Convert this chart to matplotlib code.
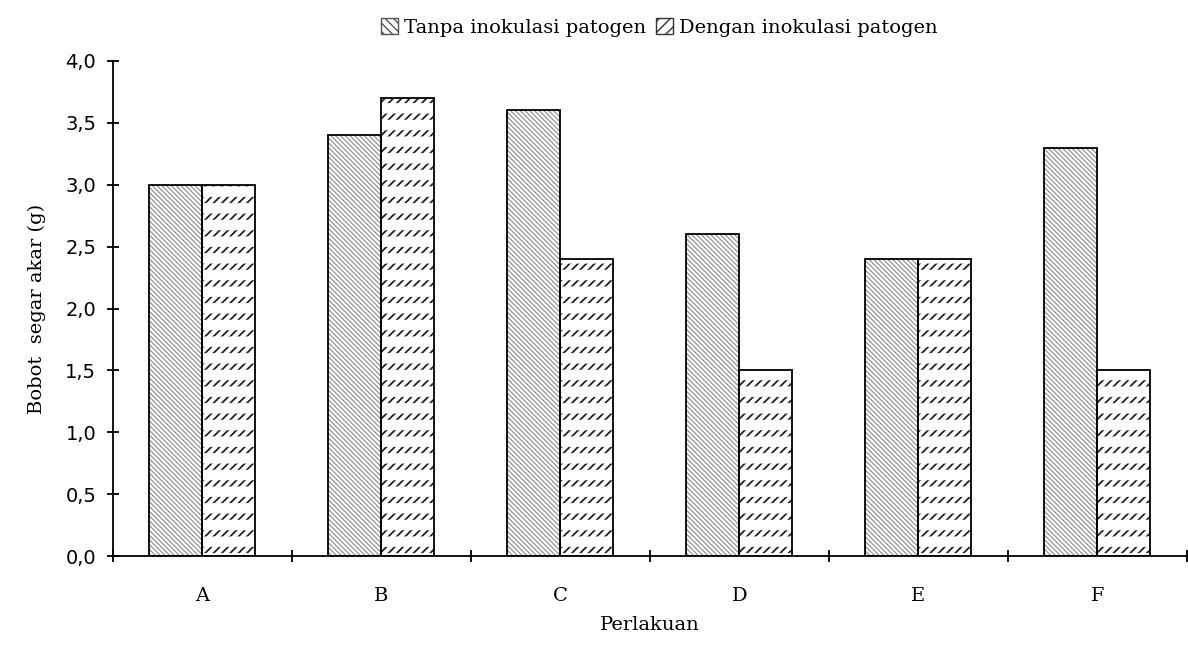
import numpy as np
import matplotlib
matplotlib.use("Agg")
import matplotlib.pyplot as plt
from matplotlib.patches import Patch

categories = ["A", "B", "C", "D", "E", "F"]
tanpa = [3.0, 3.4, 3.6, 2.6, 2.4, 3.3]
dengan = [3.0, 3.7, 2.4, 1.5, 2.4, 1.5]
series_names = ["Tanpa inokulasi patogen", "Dengan inokulasi patogen"]
yticks = [0.0, 0.5, 1.0, 1.5, 2.0, 2.5, 3.0, 3.5, 4.0]

serif = ['DejaVu Serif']
hatch_a = '\\' * 7
hatch_b = '/' * 4

fig = plt.figure(figsize=(11.88, 6.55), dpi=100)
ax = fig.add_axes([0.0951, 0.151, 0.904, 0.756])

x = np.arange(len(categories))
w = 0.296

# tanpa: thin gray diagonal lines
with plt.rc_context({'hatch.linewidth': 0.8}):
    ax.bar(x - w / 2, tanpa, w, color='white', edgecolor='#8a8a8a', hatch=hatch_a, linewidth=0)
# dengan: slashes broken into short dashes by thick white stripes
with plt.rc_context({'hatch.linewidth': 1.3}):
    ax.bar(x + w / 2, dengan, w, color='white', edgecolor='#222222', hatch=hatch_b, linewidth=0)
with plt.rc_context({'hatch.linewidth': 7.5}):
    ax.bar(x + w / 2, dengan, w, fill=False, edgecolor='white', hatch='-', linewidth=0)
ax.bar(x - w / 2, tanpa, w, fill=False, edgecolor='black', linewidth=1.3)
ax.bar(x + w / 2, dengan, w, fill=False, edgecolor='black', linewidth=1.3)

ax.set_xlim(-0.5, len(categories) - 0.5)
ax.set_ylim(0, 4.0)
ax.set_yticks(yticks)
ax.set_yticklabels([f"{v:.1f}".replace('.', ',') for v in yticks], fontsize=14)
ax.set_xticks(np.arange(len(categories) + 1) - 0.5)
ax.set_xticklabels([])
ax.set_xticks(x, minor=True)
ax.set_xticklabels(categories, minor=True, fontsize=14, family=serif)
ax.tick_params(axis='x', which='minor', length=0, pad=22)
ax.tick_params(axis='x', which='major', length=8, width=1.3, direction='inout')
ax.tick_params(axis='y', length=8, width=1.3, direction='inout', pad=8)

for s in ['top', 'right']:
    ax.spines[s].set_visible(False)
for s in ['left', 'bottom']:
    ax.spines[s].set_linewidth(1.3)

ax.set_xlabel("Perlakuan", fontsize=14, family=serif, labelpad=8)
ax.set_ylabel("Bobot  segar akar (g)", fontsize=14, family=serif, labelpad=14)

with plt.rc_context({'hatch.linewidth': 0.8}):
    handles = [Patch(facecolor='white', edgecolor='#555555', hatch='\\\\\\\\'),
               Patch(facecolor='white', edgecolor='#333333', hatch='///')]
fig.legend(handles, series_names, loc='center', bbox_to_anchor=(0.555, 0.958), ncol=2,
           frameon=False, handlelength=0.9, handleheight=0.9, handletextpad=0.3,
           columnspacing=0.5, prop={'family': serif, 'size': 14})

fig.savefig("out.png", dpi=100)
